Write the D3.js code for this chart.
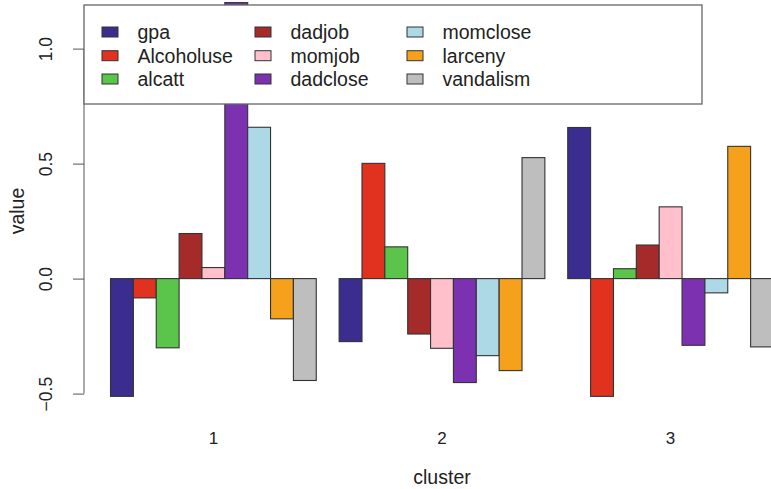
<!DOCTYPE html>
<html>
<head>
<meta charset="utf-8">
<script src="https://cdn.jsdelivr.net/npm/d3@7/dist/d3.min.js"></script>
<style>
  html, body { margin: 0; padding: 0; background: #fff; }
  svg { display: block; font-family: "Liberation Sans", Arial, sans-serif; }
</style>
</head>
<body>
<svg id="chart" width="771" height="489"></svg>
<script>
// Cluster labels and variable names
const clusters = ["1", "2", "3"];
const variables = ["gpa", "Alcoholuse", "alcatt", "dadjob", "momjob",
                   "dadclose", "momclose", "larceny", "vandalism"];

// Mean (standardised) value of each variable per cluster
const gpa        = [-0.512, -0.274,  0.657];
const Alcoholuse = [-0.084,  0.501, -0.512];
const alcatt     = [-0.301,  0.138,  0.043];
const dadjob     = [ 0.196, -0.241,  0.146];
const momjob     = [ 0.048, -0.303,  0.312];
const dadclose   = [ 1.200, -0.452, -0.290];
const momclose   = [ 0.658, -0.335, -0.062];
const larceny    = [-0.175, -0.400,  0.575];
const vandalism  = [-0.443,  0.526, -0.297];

const seriesValues = [gpa, Alcoholuse, alcatt, dadjob, momjob,
                      dadclose, momclose, larceny, vandalism];

const yTicks = [-0.5, 0.0, 0.5, 1.0];
const colors = ["#3b2d8f", "#e0321f", "#5ac54a", "#a52a2a", "#ffc0cb",
                "#7c31b1", "#add8e6", "#f5a11c", "#bebebe"];

const svg = d3.select("#chart");

// Plot region (bar units run 1..30, with 4% padding on each side)
const plotLeft = 84, plotRight = 800;
const xUnits = d3.scaleLinear().domain([-0.16, 31.16]).range([plotLeft, plotRight]);

const xOuter = d3.scaleBand()
  .domain(clusters)
  .range([xUnits(1), xUnits(30)])
  .paddingInner(0.1);

const xInner = d3.scaleBand()
  .domain(variables)
  .range([0, xOuter.bandwidth()]);

const y = d3.scaleLinear().domain([-0.5, 1.0]).range([393.6, 48.6]);

// Bars
const rows = [];
clusters.forEach((c, ci) => {
  variables.forEach((v, vi) => {
    rows.push({ cluster: c, variable: v, value: seriesValues[vi][ci], color: colors[vi] });
  });
});

svg.append("g").selectAll("rect")
  .data(rows)
  .join("rect")
  .attr("x", d => xOuter(d.cluster) + xInner(d.variable))
  .attr("width", xInner.bandwidth())
  .attr("y", d => y(Math.max(0, d.value)))
  .attr("height", d => Math.abs(y(d.value) - y(0)))
  .attr("fill", d => d.color)
  .attr("stroke", "#333")
  .attr("stroke-width", 1.1);

// Y axis
const yAxis = svg.append("g").attr("transform", `translate(${plotLeft},0)`)
  .call(d3.axisLeft(y).tickValues(yTicks).tickFormat(d3.format(".1f")).tickSize(11).tickPadding(0));
yAxis.attr("font-size", null).attr("font-family", null);
yAxis.select(".domain").attr("stroke", "#555").attr("d", `M0,${y(-0.5)}V${y(1.0)}`);
yAxis.selectAll(".tick line").attr("stroke", "#555");
yAxis.selectAll(".tick text")
  .attr("x", null).attr("dy", null)
  .attr("transform", "translate(-32,0) rotate(-90)")
  .attr("text-anchor", "middle")
  .attr("fill", "#222")
  .style("font-size", "17.5px");

// Cluster labels under each group
const xAxis = svg.append("g").attr("transform", "translate(0,444)")
  .call(d3.axisBottom(xOuter).tickSize(0).tickPadding(0));
xAxis.attr("font-size", null).attr("font-family", null);
xAxis.select(".domain").remove();
xAxis.selectAll(".tick text")
  .attr("y", 0).attr("dy", null)
  .attr("fill", "#222")
  .style("font-size", "17px");

// Axis titles
svg.append("text")
  .attr("x", (plotLeft + plotRight) / 2).attr("y", 484)
  .attr("text-anchor", "middle")
  .attr("fill", "#222")
  .style("font-size", "19.5px")
  .text("cluster");

svg.append("text")
  .attr("transform", "translate(24,211) rotate(-90)")
  .attr("text-anchor", "middle")
  .attr("fill", "#222")
  .style("font-size", "19.5px")
  .text("value");

// Legend
const legend = svg.append("g");
legend.append("rect")
  .attr("x", 84).attr("y", 5).attr("width", 618).attr("height", 99)
  .attr("fill", "#fff").attr("stroke", "#666").attr("stroke-width", 1.3);

const colX = [102, 255, 407];
const rowY = [32, 55.7, 79];
variables.forEach((v, i) => {
  const col = Math.floor(i / 3), row = i % 3;
  const g = legend.append("g")
    .attr("transform", `translate(${colX[col]},${rowY[row]})`);
  g.append("rect")
    .attr("x", 0).attr("y", -5).attr("width", 16).attr("height", 10)
    .attr("fill", colors[i]).attr("stroke", "#333").attr("stroke-width", 1);
  g.append("text")
    .attr("x", 35.5).attr("y", 7)
    .attr("fill", "#222")
    .style("font-size", "19.5px")
    .text(v);
});
</script>
</body>
</html>
